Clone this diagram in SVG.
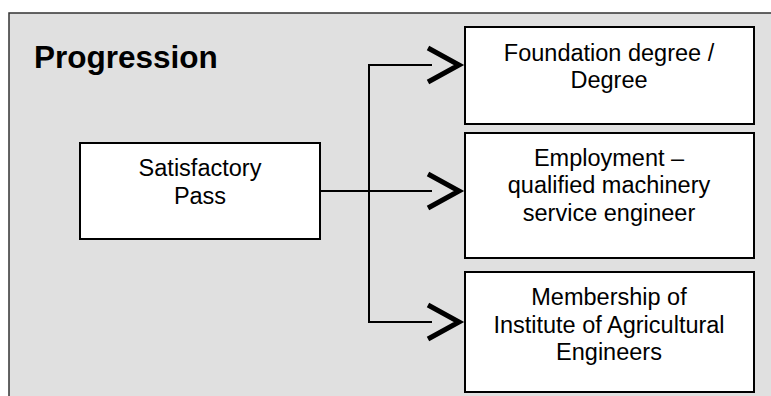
<svg xmlns="http://www.w3.org/2000/svg" width="771" height="396" viewBox="0 0 771 396">
<style>
.box{fill:#fff;stroke:#000;stroke-width:2}
.t{font-family:"Liberation Sans",Arial,sans-serif;font-size:23.5px;text-anchor:middle;fill:#000}
.ln{fill:none;stroke:#000;stroke-width:2}
.chev{fill:none;stroke:#000;stroke-width:5;stroke-linejoin:miter;stroke-miterlimit:10}
</style>
<rect width="771" height="396" fill="#fff"/>
<rect id="frame" x="9" y="13" width="800" height="420" fill="#e0e0e0" stroke="#333" stroke-width="1.5"/>
<text x="34" y="68" font-family="Liberation Sans,Arial,sans-serif" font-size="31.5" font-weight="bold">Progression</text>
<g id="connectors">
<line class="ln" x1="320" y1="191" x2="432" y2="191"/>
<polyline class="ln" points="432,65 369,65 369,322 432,322"/>
<polyline class="chev" points="428,48 459,65 428,82"/>
<polyline class="chev" points="428,174 459,191 428,208"/>
<polyline class="chev" points="428,305 459,322 428,339"/>
</g>
<g id="satisfactory">
<rect class="box" x="80" y="143" width="240" height="96"/>
<text class="t" x="200" y="176">Satisfactory</text>
<text class="t" x="200" y="203.5">Pass</text>
</g>
<g id="foundation">
<rect class="box" x="465" y="27" width="289" height="97"/>
<text class="t" x="609" y="60.5">Foundation degree /</text>
<text class="t" x="609" y="87.5">Degree</text>
</g>
<g id="employment">
<rect class="box" x="465" y="133" width="289" height="125"/>
<text class="t" x="609" y="165.5">Employment –</text>
<text class="t" x="609" y="193">qualified machinery</text>
<text class="t" x="609" y="220.5">service engineer</text>
</g>
<g id="membership">
<rect class="box" x="465" y="272" width="289" height="120"/>
<text class="t" x="609" y="305">Membership of</text>
<text class="t" x="609" y="332.5">Institute of Agricultural</text>
<text class="t" x="609" y="360">Engineers</text>
</g>
</svg>
